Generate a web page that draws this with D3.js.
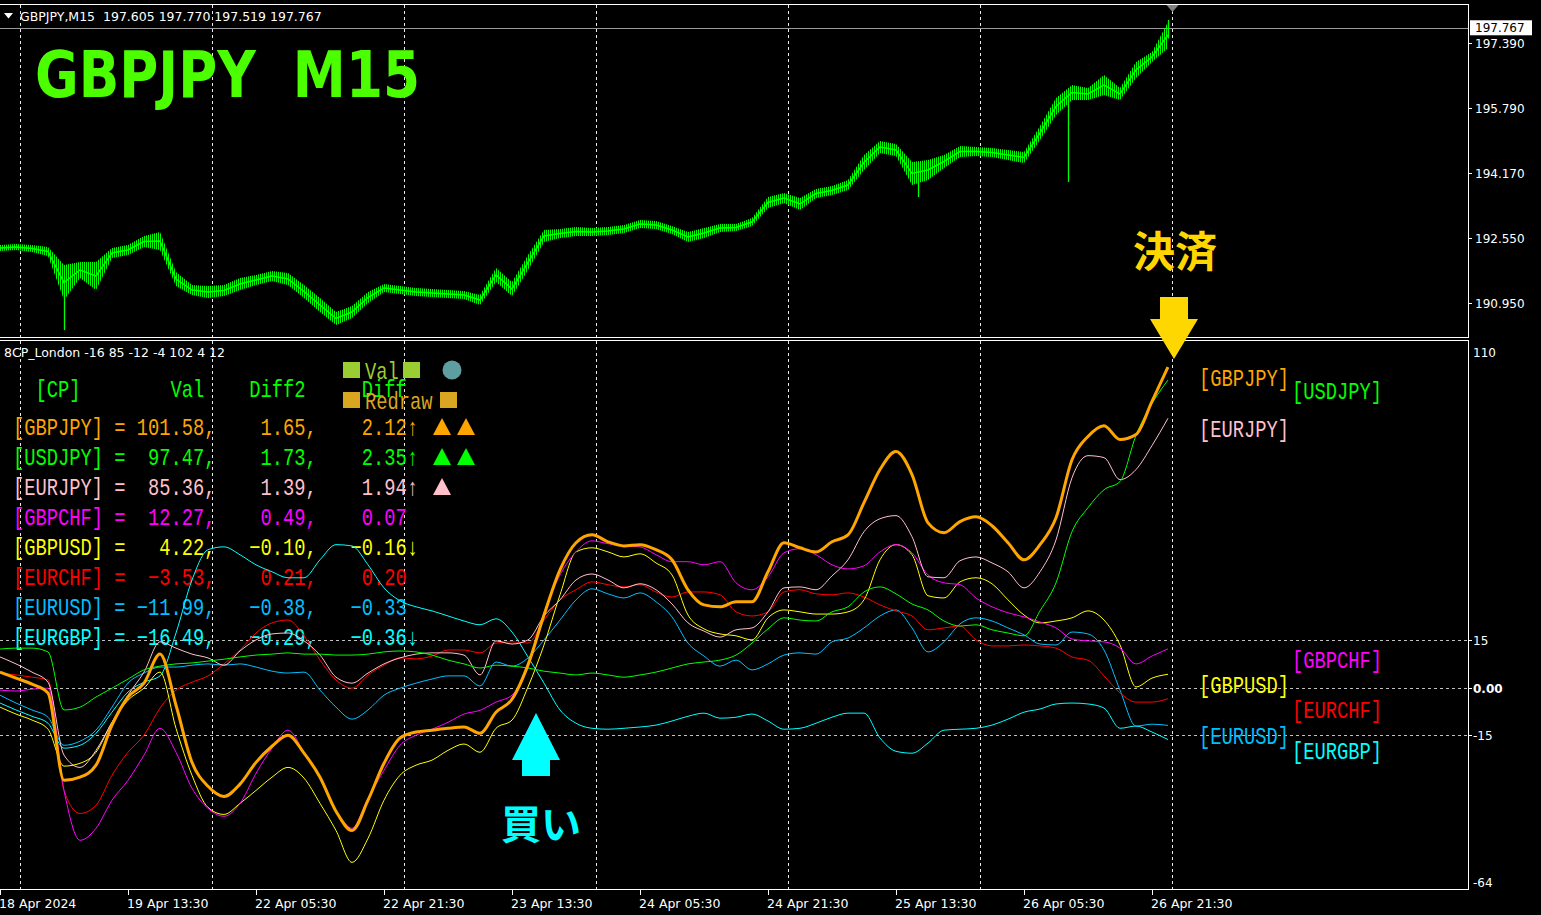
<!DOCTYPE html>
<html><head><meta charset="utf-8">
<script src="https://cdn.jsdelivr.net/npm/d3@7"></script>
<style>
html,body{margin:0;padding:0;background:#000;overflow:hidden}
svg{display:block}
text.pre{white-space:pre}
</style></head><body>
<svg id="chart" width="1541" height="915"></svg>
<script>
// ---------------- DATA ----------------
const pairs = ["GBPJPY","USDJPY","EURJPY","GBPCHF","GBPUSD","EURCHF","EURUSD","EURGBP"];
const pairColors = ["#ffa500","#00ff00","#ffc0cb","#ff00ff","#ffff00","#ff0000","#00bfff","#00ffff"];
const valTexts = ["101.58","97.47","85.36","12.27","4.22","-3.53","-11.99","-16.49"];
const diff2Texts = ["1.65","1.73","1.39","0.49","-0.10","0.21","-0.38","-0.29"];
const diffTexts = ["2.12","2.35","1.94","0.07","-0.16","0.20","-0.33","-0.36"];
const trendArrows = ["↑","↑","↑","","↓","","","↓"];
const triangleCounts = [2,2,1,0,0,0,0,0];

const sampleStep = 8; // bars between samples (M15 bars)

const GBPJPY = [4.9,3.0,1.1,-1.7,-29.4,-28.4,-24.6,-11.9,-3.0,1.4,
  10.6,-5.6,-23.7,-31.3,-34.5,-30.6,-23.7,-18.6,-15.1,-20.8,
  -28.4,-39.2,-45.3,-35.7,-24.0,-16.0,-14.1,-13.5,-12.9,-12.5,
  -14.5,-7.8,-3.7,7.2,23.0,37.3,45.9,48.4,46.2,44.9,
  45.3,43.7,40.5,31.0,26.2,25.6,27.2,27.2,36.7,45.9,
  44.3,43.0,46.2,48.4,58.6,69.1,74.8,67.5,52.2,49.1,
  52.6,54.1,51.3,45.9,40.5,45.3,53.8,72.2,79.6,83.0,
  78.6,80.2,90.7,101.58];
const USDJPY = [12.2,12.5,12.5,11.3,-7.1,-6.2,-3.0,-0.2,2.7,5.6,
  6.8,7.5,7.8,8.4,9.0,9.7,10.3,10.6,11.0,10.6,
  10.6,10.3,10.3,10.6,11.3,11.6,11.3,10.3,8.7,7.5,
  6.2,7.1,6.8,6.2,5.2,4.6,4.0,4.6,4.0,3.3,
  4.0,4.9,6.2,7.5,8.1,8.7,10.3,14.1,18.6,22.1,
  21.4,21.1,24.0,25.6,30.3,31.9,29.7,26.5,24.6,21.1,
  19.5,19.9,18.3,17.3,16.4,24.3,33.2,49.4,57.0,62.7,
  65.3,79.9,90.0,97.47];
const EURJPY = [9.7,7.5,4.9,1.7,-21.4,-25.3,-19.9,-11.0,-2.4,4.9,
  14.5,12.5,10.6,9.4,7.1,11.6,15.1,17.0,17.3,14.8,
  10.3,3.3,1.4,4.6,7.5,9.4,10.6,11.0,11.0,10.3,
  4.0,14.8,13.8,15.1,22.7,27.8,34.1,36.0,34.1,31.6,
  32.9,31.0,26.5,20.5,17.9,16.0,18.3,18.9,24.0,31.6,
  31.9,31.0,35.4,40.5,49.4,53.5,54.5,47.8,35.1,34.8,
  40.2,41.4,39.5,36.7,31.6,36.7,46.8,66.5,73.5,72.9,
  65.9,69.1,76.7,85.36];
const GBPCHF = [-0.8,-1.1,-0.5,-0.2,-32.6,-48.4,-44.6,-35.7,-29.4,-21.4,
  -12.9,-20.5,-31.9,-38.3,-40.8,-36.7,-27.2,-19.2,-13.5,-20.5,
  -28.7,-38.9,-44.6,-35.1,-26.2,-18.3,-15.1,-13.2,-11.0,-8.4,
  -7.2,-4.6,-2.4,6.5,23.7,35.7,43.0,46.5,45.6,44.9,
  44.6,42.1,39.9,39.9,38.9,39.9,33.2,31.0,35.1,42.7,
  44.0,42.1,38.9,37.6,38.6,43.0,45.3,42.7,35.7,33.2,
  32.6,28.4,25.6,23.7,22.4,20.8,18.9,15.4,14.8,14.5,
  12.5,7.5,10.0,12.27];
const GBPUSD = [-6.2,-8.4,-10.3,-13.2,-24.9,-24.0,-20.5,-11.0,-4.0,-0.2,
  4.9,-12.9,-27.8,-38.0,-40.2,-36.7,-32.6,-28.4,-25.3,-28.7,
  -36.7,-45.3,-55.4,-47.8,-35.7,-27.8,-24.6,-23.0,-19.9,-17.9,
  -20.5,-12.9,-10.3,0.2,13.5,29.4,43.0,44.3,43.0,41.4,
  42.4,39.5,35.7,23.0,18.6,17.0,16.4,15.1,22.1,24.6,
  24.0,23.3,23.3,24.0,27.8,40.5,45.3,42.1,29.1,28.4,
  33.5,34.8,32.9,27.8,23.0,20.5,21.1,22.1,24.3,21.4,
  13.5,0.2,3.0,4.22];
const EURCHF = [4.6,4.0,3.3,2.4,-32.6,-39.9,-37.3,-27.8,-20.5,-15.1,
  -6.5,-0.8,1.7,3.7,7.5,11.9,17.3,20.5,21.4,16.4,
  8.7,2.4,-0.2,4.0,7.1,9.4,9.1,10.0,11.9,11.9,
  11.0,14.1,14.5,14.1,21.4,27.8,31.0,33.5,32.6,31.9,
  32.6,30.3,28.7,30.3,30.3,29.4,24.0,22.7,24.0,30.3,
  31.0,29.7,29.4,30.0,28.7,26.2,24.3,22.7,18.3,18.9,
  19.5,15.1,13.2,13.2,13.5,13.2,12.5,9.7,8.7,3.7,
  -1.7,-4.6,-4.6,-3.53];
const EURUSD = [-2.4,-4.9,-7.1,-9.4,-18.3,-17.0,-13.5,-6.2,1.4,4.6,
  6.5,6.5,7.1,7.5,7.1,7.5,6.5,5.2,4.6,4.9,
  -0.8,-6.2,-10.0,-7.1,-2.4,-0.2,1.4,2.7,3.7,3.7,
  0.5,8.1,6.8,9.4,15.1,21.4,27.8,31.3,29.7,28.4,
  30.0,27.2,22.4,14.1,10.0,6.8,8.7,5.6,7.5,10.3,
  11.0,10.6,14.5,15.7,18.9,22.7,24.6,18.9,11.3,14.5,
  20.2,22.1,21.1,18.9,16.7,13.8,13.5,17.6,17.0,11.9,
  -0.8,-12.2,-11.6,-11.99];
const EURGBP = [-4.9,-7.1,-9.1,-11.3,-19.2,-18.3,-14.5,-7.8,-1.4,1.7,
  3.7,17.3,34.1,43.7,44.6,42.1,38.9,36.7,34.8,34.8,
  40.5,45.3,44.9,38.9,31.6,27.5,25.6,24.3,22.7,21.1,
  19.9,21.8,17.6,9.7,1.4,-7.1,-11.3,-12.9,-13.2,-12.9,
  -12.5,-11.9,-10.6,-9.1,-8.1,-9.7,-9.4,-8.4,-10.6,-13.2,
  -12.9,-11.3,-9.4,-8.1,-8.1,-16.0,-20.2,-20.8,-17.6,-13.5,
  -13.2,-12.9,-11.9,-10.0,-7.8,-6.8,-5.2,-4.9,-5.2,-6.5,
  -12.9,-12.2,-14.1,-16.49];
const seriesList = [GBPJPY, USDJPY, EURJPY, GBPCHF, GBPUSD, EURCHF, EURUSD, EURGBP];

const priceHigh = [192.386,192.411,192.386,192.337,191.891,191.965,191.965,192.312,192.386,192.609,
  192.708,191.718,191.395,191.371,191.395,191.569,191.643,191.742,191.693,191.395,
  191.073,190.727,190.875,191.222,191.420,191.371,191.321,191.296,191.272,191.247,
  191.148,191.817,191.470,192.139,192.758,192.783,192.832,192.807,192.832,192.882,
  193.006,192.981,192.857,192.708,192.807,192.906,192.906,193.055,193.575,193.674,
  193.550,193.773,193.848,193.996,194.616,194.962,194.888,194.442,194.492,194.616,
  194.839,194.814,194.789,194.740,194.690,195.334,196.028,196.350,196.275,196.597,
  196.275,196.919,197.167,197.910];
const priceLow = [192.238,192.262,192.213,192.114,191.024,191.569,191.272,192.064,192.139,192.337,
  192.262,191.371,191.148,191.073,191.123,191.272,191.395,191.495,191.395,191.073,
  190.727,190.405,190.578,190.950,191.222,191.172,191.123,191.098,191.073,191.049,
  190.900,191.470,191.123,191.767,192.461,192.560,192.609,192.609,192.634,192.684,
  192.807,192.783,192.659,192.461,192.560,192.708,192.733,192.857,193.303,193.427,
  193.253,193.550,193.625,193.749,194.244,194.665,194.591,193.872,193.996,194.294,
  194.566,194.591,194.566,194.492,194.417,194.987,195.606,195.978,195.978,196.102,
  195.978,196.523,196.919,197.266];
const spikeBars = [32, 459, 534, 584];
const spikeHigh = [191.6, 194.3, 196.2, 197.960];
const spikeLow = [190.281, 193.575, 193.947, 197.5];

const priceTicks = [197.39, 195.79, 194.17, 192.55, 190.95];
const lastPrice = 197.767;
const headerText = "GBPJPY,M15  197.605 197.770 197.519 197.767";
const indicatorName = "8CP_London -16 85 -12 -4 102 4 12";
const levelTicks = [15, 0, -15];
const levelLabels = ["15", "0.00", "-15"];
const indMax = 110, indMin = -64;
const timeTickBars = [0,64,128,192,256,320,384,448,512,576];
const timeLabels = ["18 Apr 2024","19 Apr 13:30","22 Apr 05:30","22 Apr 21:30","23 Apr 13:30",
  "24 Apr 05:30","24 Apr 21:30","25 Apr 13:30","26 Apr 05:30","26 Apr 21:30"];
const daySeparatorBars = [10,106,202,298,394,490,586];
const buyBar = 268;

// ---------------- LAYOUT ----------------
const W = 1541, H = 915;
const plotRight = 1468;
const svg = d3.select("#chart");
svg.append("rect").attr("width", W).attr("height", H).attr("fill", "#000");

const defs = svg.append("defs");
const pat = defs.append("pattern").attr("id", "bars").attr("patternUnits", "userSpaceOnUse")
  .attr("width", 2).attr("height", 4);
pat.append("rect").attr("x", 0).attr("y", 0).attr("width", 1).attr("height", 4).attr("fill", "#00ff00");

const x = d3.scaleLinear().domain([0, 734]).range([0, plotRight]);
const yP = d3.scaleLinear().domain([190.95, 197.39]).range([303, 43]);
const yI = d3.scaleLinear().domain([indMin, indMax]).range([889.5, 340.5]);

const sansFont = "'DejaVu Sans', Verdana, sans-serif";
const monoFont = "'Liberation Mono', 'DejaVu Sans Mono', monospace";
const CH = 11.25;
const fmt = s => s.replace("-", "\u2212");

function mono(g, str, xPos, yPos, color) {
  return g.append("text").attr("class", "pre").attr("xml:space", "preserve")
    .attr("x", xPos).attr("y", yPos)
    .attr("font-family", monoFont).attr("font-size", 24)
    .attr("textLength", str.length * CH).attr("lengthAdjust", "spacingAndGlyphs")
    .attr("fill", color).text(str);
}

// frames
svg.append("rect").attr("x", -1).attr("y", 4.5).attr("width", plotRight + 1.5).attr("height", 333)
  .attr("fill", "none").attr("stroke", "#fff").attr("stroke-width", 1);
svg.append("rect").attr("x", -1).attr("y", 340.5).attr("width", plotRight + 1.5).attr("height", 549)
  .attr("fill", "none").attr("stroke", "#fff").attr("stroke-width", 1);

// day separators
const grid = svg.append("g").attr("stroke", "#e8e8e8").attr("stroke-dasharray", "3,3").attr("stroke-width", 1);
daySeparatorBars.forEach(b => {
  const xx = Math.round(x(b)) + 0.5;
  grid.append("line").attr("x1", xx).attr("x2", xx).attr("y1", 5).attr("y2", 337);
  grid.append("line").attr("x1", xx).attr("x2", xx).attr("y1", 341).attr("y2", 889);
});

// level lines
levelTicks.forEach(v => {
  const yy = Math.round(yI(v)) + 0.5;
  svg.append("line").attr("x1", 0).attr("x2", plotRight).attr("y1", yy).attr("y2", yy)
    .attr("stroke", "#c0c0c0").attr("stroke-dasharray", "3,3");
});

// current price line
{
  const yy = Math.round(yP(lastPrice)) + 0.5;
  svg.append("line").attr("x1", 0).attr("x2", plotRight).attr("y1", yy).attr("y2", yy)
    .attr("stroke", "#9a9a9a");
}

// ---------------- PRICE PANEL ----------------
const priceArea = d3.area()
  .x((d, i) => x(i * sampleStep))
  .y0((d, i) => yP(priceLow[i]))
  .y1((d, i) => yP(priceHigh[i]));
svg.append("path").datum(priceHigh).attr("d", priceArea).attr("fill", "url(#bars)");
const midLine = d3.line()
  .x((d, i) => x(i * sampleStep))
  .y((d, i) => (yP(priceHigh[i]) + yP(priceLow[i])) / 2);
svg.append("path").datum(priceHigh).attr("d", midLine)
  .attr("fill", "none").attr("stroke", "#00ff00").attr("stroke-width", 1.5);
spikeBars.forEach((b, i) => {
  svg.append("line").attr("x1", x(b) + 0.5).attr("x2", x(b) + 0.5)
    .attr("y1", yP(spikeHigh[i])).attr("y2", yP(spikeLow[i]))
    .attr("stroke", "#00ff00").attr("stroke-width", 1.3);
});

// header
svg.append("path").attr("d", "M4,13 L13,13 L8.5,18.5 Z").attr("fill", "#fff");
svg.append("text").attr("class", "pre").attr("xml:space", "preserve")
  .attr("x", 20).attr("y", 20.5).attr("font-family", sansFont).attr("font-size", 12.5)
  .attr("fill", "#fff").text(headerText);
svg.append("text").attr("class", "pre").attr("xml:space", "preserve")
  .attr("x", 35).attr("y", 97).attr("font-family", sansFont).attr("font-size", 64)
  .attr("font-weight", "bold").attr("textLength", 385).attr("lengthAdjust", "spacingAndGlyphs")
  .attr("fill", "#4cff00").text("GBPJPY  M15");

// chart shift marker
{
  const xs = Math.round(x(586)) + 0.5;
  svg.append("path").attr("d", `M${xs - 6},5 L${xs + 6},5 L${xs},12 Z`).attr("fill", "#808080");
}

// price axis
priceTicks.forEach(p => {
  const yy = Math.round(yP(p)) + 0.5;
  svg.append("line").attr("x1", plotRight).attr("x2", plotRight + 4).attr("y1", yy).attr("y2", yy).attr("stroke", "#fff");
  svg.append("text").attr("x", 1475).attr("y", yy + 4.5).attr("font-family", sansFont).attr("font-size", 12)
    .attr("fill", "#fff").text(p.toFixed(3));
});
{
  const yy = yP(lastPrice);
  svg.append("rect").attr("x", 1470).attr("y", yy - 7.5).attr("width", 62).attr("height", 15).attr("fill", "#fff");
  svg.append("text").attr("x", 1475).attr("y", yy + 4.5).attr("font-family", sansFont).attr("font-size", 12)
    .attr("fill", "#000").text(lastPrice.toFixed(3));
}

// ---------------- INDICATOR PANEL ----------------
svg.append("text").attr("x", 4).attr("y", 357).attr("font-family", sansFont).attr("font-size", 12.5)
  .attr("fill", "#fff").text(indicatorName);

// indicator axis
levelTicks.forEach((v, i) => {
  const yy = Math.round(yI(v)) + 0.5;
  svg.append("line").attr("x1", plotRight).attr("x2", plotRight + 4).attr("y1", yy).attr("y2", yy).attr("stroke", "#fff");
  svg.append("text").attr("x", 1473).attr("y", yy + 4.5).attr("font-family", sansFont).attr("font-size", 12)
    .attr("fill", "#fff").attr("font-weight", v === 0 ? "bold" : "normal").text(levelLabels[i]);
});
svg.append("text").attr("x", 1473).attr("y", yI(indMax) + 16.5).attr("font-family", sansFont).attr("font-size", 12)
  .attr("fill", "#fff").text(String(indMax));
svg.append("text").attr("x", 1473).attr("y", yI(indMin) - 2.5).attr("font-family", sansFont).attr("font-size", 12)
  .attr("fill", "#fff").text(String(indMin));

// time axis
timeTickBars.forEach((b, i) => {
  const xx = Math.round(x(b)) + 0.5;
  svg.append("line").attr("x1", xx).attr("x2", xx).attr("y1", 889.5).attr("y2", 895).attr("stroke", "#fff");
  svg.append("text").attr("x", x(b) - 1).attr("y", 908).attr("font-family", sansFont).attr("font-size", 12.5)
    .attr("fill", "#fff").text(timeLabels[i]);
});

// table
const tbl = svg.append("g");
const tx = 13;
const hdrY = 397;
const green = "#00ff00";
mono(tbl, "[CP]        Val    Diff2     Diff", tx + 2 * CH, hdrY, green);
// legend
tbl.append("rect").attr("x", 343).attr("y", 362).attr("width", 17).attr("height", 16).attr("fill", "#9acd32");
mono(tbl, "Val", 365, 379, "#9acd32");
tbl.append("rect").attr("x", 403).attr("y", 362).attr("width", 17).attr("height", 16).attr("fill", "#9acd32");
tbl.append("circle").attr("cx", 452).attr("cy", 370).attr("r", 9.5).attr("fill", "#5f9ea0");
tbl.append("rect").attr("x", 343).attr("y", 392).attr("width", 17).attr("height", 16).attr("fill", "#daa520");
mono(tbl, "Redraw", 365, 409, "#daa520");
tbl.append("rect").attr("x", 440).attr("y", 392).attr("width", 17).attr("height", 16).attr("fill", "#daa520");

pairs.forEach((p, i) => {
  const yy = 435 + 30 * i;
  const c = pairColors[i];
  const row = `[${p}] = ` + (fmt(valTexts[i]) + ",").padStart(7) +
    (fmt(diff2Texts[i]) + ",").padStart(9) + fmt(diffTexts[i]).padStart(8) + trendArrows[i];
  mono(tbl, row, tx, yy, c);
  for (let j = 0; j < triangleCounts[i]; j++) {
    const x0 = 433 + j * 24;
    tbl.append("path").attr("d", `M${x0},${yy} L${x0 + 18},${yy} L${x0 + 9},${yy - 17} Z`).attr("fill", c);
  }
});

// indicator lines (drawn bottom-up so GBPJPY is on top)
const lineGen = d3.line().x((d, i) => x(i * sampleStep)).y(d => yI(d)).curve(d3.curveMonotoneX);
for (let i = pairs.length - 1; i >= 0; i--) {
  svg.append("path").datum(seriesList[i]).attr("d", lineGen)
    .attr("fill", "none").attr("stroke", pairColors[i])
    .attr("stroke-width", i === 0 ? 3 : 1).attr("stroke-linejoin", "round");
}

// right-side labels
pairs.forEach((p, i) => {
  const s = seriesList[i];
  const yy = yI(s[s.length - 1]) + 19;
  mono(svg, `[${p}]`, i % 2 === 0 ? 1199 : 1292, yy, pairColors[i]);
});

// ---------------- ANNOTATIONS ----------------
{
  const last = GBPJPY.length - 1;
  const ax = x(last * sampleStep) + 6;
  const tipY = yI(GBPJPY[last]) - 8;
  svg.append("path")
    .attr("d", `M${ax - 14},${tipY - 62} L${ax + 14},${tipY - 62} L${ax + 14},${tipY - 40} L${ax + 24},${tipY - 40} L${ax},${tipY} L${ax - 24},${tipY - 40} L${ax - 14},${tipY - 40} Z`)
    .attr("fill", "#ffd700");
  svg.append("text").attr("x", ax + 1).attr("y", 267).attr("text-anchor", "middle")
    .attr("font-family", "'Noto Sans CJK JP', sans-serif").attr("font-weight", "bold").attr("font-size", 42)
    .attr("fill", "#ffd700").text("決済");
}
{
  const ax = x(buyBar);
  const tipY = 713;
  svg.append("path")
    .attr("d", `M${ax},${tipY} L${ax + 24},${tipY + 47} L${ax + 14},${tipY + 47} L${ax + 14},${tipY + 63} L${ax - 14},${tipY + 63} L${ax - 14},${tipY + 47} L${ax - 24},${tipY + 47} Z`)
    .attr("fill", "#00ffff");
  svg.append("text").attr("x", ax + 5).attr("y", 839).attr("text-anchor", "middle")
    .attr("font-family", "'Noto Sans CJK JP', sans-serif").attr("font-weight", "bold").attr("font-size", 40)
    .attr("fill", "#00ffff").text("買い");
}
</script>
</body></html>
